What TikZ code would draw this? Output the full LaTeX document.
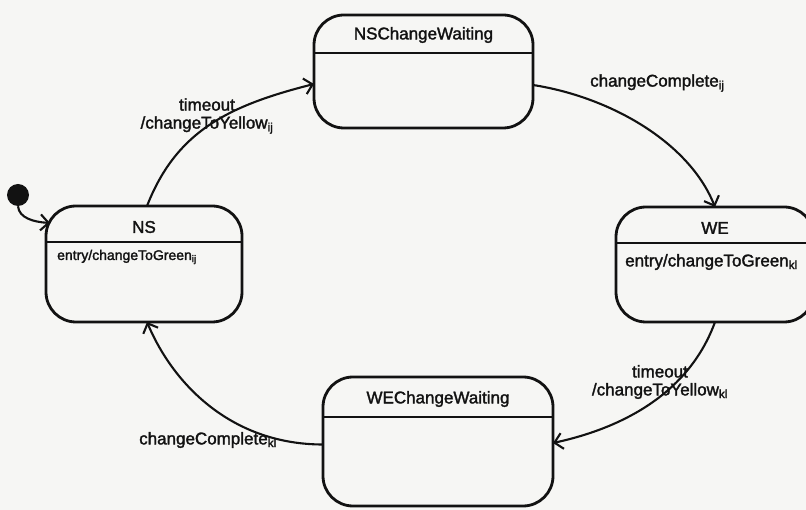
\documentclass[tikz,border=0pt]{standalone}
\usepackage{fontspec}
\setmainfont{Liberation Sans}[FakeBold=1.8]
\usetikzlibrary{arrows.meta,calc}
\definecolor{paper}{RGB}{246,246,244}
\definecolor{ink}{RGB}{18,18,18}
\tikzset{
  statebox/.style={draw=ink, line width=2.8pt, rounded corners=30pt, fill=paper, inner sep=0pt, outer sep=0pt},
  divider/.style={draw=ink, line width=2.6pt},
  titletext/.style={font=\fontsize{17}{20}\selectfont, text=ink, inner sep=0pt},
  bodytext/.style={font=\fontsize{14}{17}\selectfont, text=ink, inner sep=0pt, anchor=west},
  translabel/.style={font=\fontsize{17}{18}\selectfont, text=ink, inner sep=0pt, align=center},
  transition/.style={draw=ink, line width=2.1pt, -{Straight Barb[length=8pt,width=16pt]}},
}
\begin{document}
\begin{tikzpicture}[x=1pt,y=-1pt]
\useasboundingbox (0,0) rectangle (806,510);
\fill[paper] (0,0) rectangle (806,510);
\clip (0,0) rectangle (806,510);

% states
\node[statebox, minimum width=196pt, minimum height=116pt] (NS) at (144,264) {};
\node[statebox, minimum width=219pt, minimum height=113pt] (NSCW) at (423.5,71.5) {};
\node[statebox, minimum width=198pt, minimum height=115pt] (WE) at (715,264.5) {};
\node[statebox, minimum width=230pt, minimum height=129pt] (WECW) at (438,441.5) {};

% compartment dividers
\draw[divider] ([yshift=-36pt]NS.north west) -- ([yshift=-36pt]NS.north east);
\draw[divider] ([yshift=-38pt]NSCW.north west) -- ([yshift=-38pt]NSCW.north east);
\draw[divider] ([yshift=-36pt]WE.north west) -- ([yshift=-36pt]WE.north east);
\draw[divider] ([yshift=-40pt]WECW.north west) -- ([yshift=-40pt]WECW.north east);

% state names
\node[titletext] (NSname) at ([yshift=-21pt]NS.north) {NS};
\node[titletext] (NSCWname) at ([yshift=-20pt]NSCW.north) {NSChangeWaiting};
\node[titletext] (WEname) at ([yshift=-21pt]WE.north) {WE};
\node[titletext] (WECWname) at ([yshift=-22pt]WECW.north) {WEChangeWaiting};

% entry actions
\node[bodytext] (NSentry) at ([shift={(11,51)}]NS.north west) {entry/changeToGreen\textsubscript{ij}};
\node[bodytext, font=\fontsize{17}{19}\selectfont] (WEentry) at ([shift={(9,55)}]WE.north west) {entry/changeToGreen\textsubscript{kl}};

% initial pseudostate
\node[circle, fill=ink, minimum size=22pt, inner sep=0pt] (init) at (18,195) {};
\coordinate (initend) at ([shift={(4,17)}]NS.north west);
\draw[transition] (init.south) .. controls ($(init.south)+(1,12)$) and ($(initend)+(-16,-1)$) .. (initend);

% transitions
\coordinate (t1s) at ([xshift=3pt]NS.north);
\coordinate (t1e) at ([yshift=-12.5pt]NSCW.west);
\draw[transition] (t1s) .. controls ($(t1s)+(29,-74)$) and ($(t1e)+(-87,22)$) .. (t1e);

\coordinate (t2s) at ([yshift=-13.5pt]NSCW.east);
\draw[transition] (t2s) .. controls ($(t2s)+(77,12)$) and ($(WE.north)+(-26,-65)$) .. (WE.north);

\coordinate (t3e) at ([yshift=-1.5pt]WECW.east);
\draw[transition] (WE.south) .. controls ($(WE.south)+(-24,66)$) and ($(t3e)+(78,-17)$) .. (t3e);

\coordinate (t4s) at ([yshift=-3pt]WECW.west);
\coordinate (t4e) at ([xshift=3pt]NS.south);
\draw[transition] (t4s) .. controls ($(t4s)+(-90,0)$) and ($(t4e)+(27,64)$) .. (t4e);

% transition labels
\node[translabel] (lblA) at (207,116) {timeout\\/changeToYellow\textsubscript{ij}};
\node[translabel, anchor=west] (lblB) at (590,83) {changeComplete\textsubscript{ij}};
\node[translabel] (lblC) at (660,382) {timeout\\/changeToYellow\textsubscript{kl}};
\node[translabel, anchor=west] (lblD) at (139,440) {changeComplete\textsubscript{kl}};
\end{tikzpicture}
\end{document}
